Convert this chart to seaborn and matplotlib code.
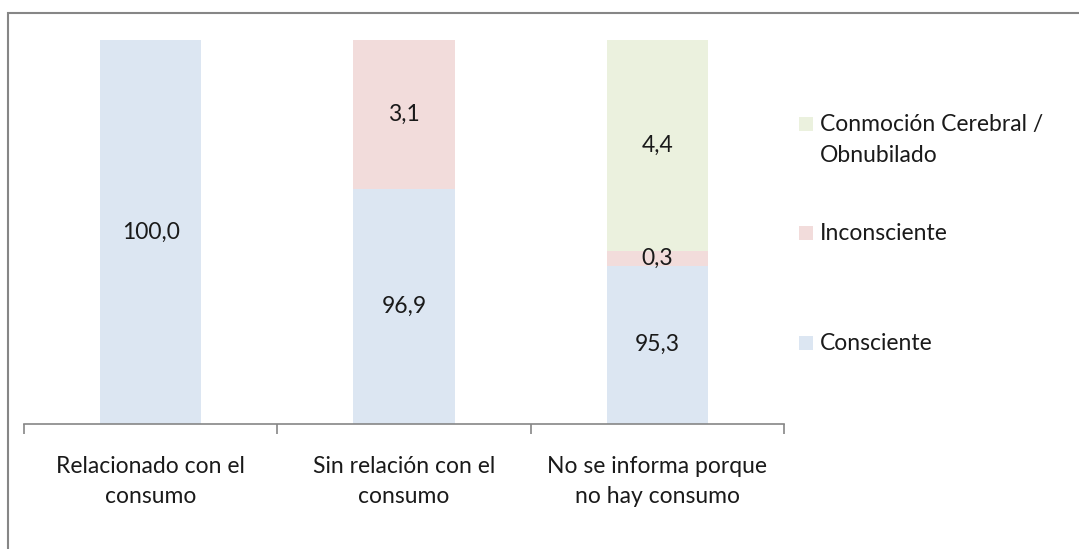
import matplotlib
matplotlib.use("Agg")
import pandas as pd
import seaborn as sns
import matplotlib.pyplot as plt
from matplotlib.patches import Rectangle

# data
categorias = ["Relacionado con el\nconsumo", "Sin relación con el\nconsumo", "No se informa porque\nno hay consumo"]
consciente = [100.0, 96.9, 95.3]
inconsciente = [0.0, 3.1, 0.3]
conmocion = [0.0, 0.0, 4.4]
series = ["Consciente", "Inconsciente", "Conmoción Cerebral /\nObnubilado"]
colores = ["#dce6f2", "#f2dcdb", "#ebf1de"]

ymin = 92

sns.set_theme(style="white")
plt.rcParams["font.family"] = ["Lato", "DejaVu Sans"]
txt = "#1a1a1a"
fs = 16.5

df = pd.DataFrame({"cat": categorias, "Consciente": consciente,
                   "Inconsciente": inconsciente, "Conmocion": conmocion})
df["c1"] = df["Consciente"]
df["c2"] = df["c1"] + df["Inconsciente"]
df["c3"] = df["c2"] + df["Conmocion"]

fig = plt.figure(figsize=(10.79, 5.49), dpi=100)
ax = fig.add_axes([24 / 1079, 125 / 549, 760 / 1079, 384 / 549])

# stacked bars: draw cumulative totals, largest first
for col, color in zip(["c3", "c2", "c1"], colores[::-1]):
    sns.barplot(data=df, x="cat", y=col, color=color, width=0.4, ax=ax,
                saturation=1, errorbar=None, linewidth=0)

ax.set_ylim(ymin, 100)
ax.set_xlim(-0.5, 2.5)

# value labels in the middle of each visible segment
for i in range(len(categorias)):
    bottoms = [0, df["c1"][i], df["c2"][i]]
    vals = [consciente[i], inconsciente[i], conmocion[i]]
    for b, v in zip(bottoms, vals):
        if v <= 0:
            continue
        y = (max(b, ymin) + b + v) / 2
        ax.text(i, y, f"{v:.1f}".replace(".", ","), ha="center", va="center",
                fontsize=fs, color=txt)

ax.set_xlabel("")
ax.set_ylabel("")
ax.set_yticks([])
for s in ["left", "right", "top"]:
    ax.spines[s].set_visible(False)
ax.spines["bottom"].set_color("#868686")
ax.spines["bottom"].set_linewidth(1.2)
ax.set_xticks(range(len(categorias)))
ax.set_xticklabels(categorias, fontsize=fs, color=txt, linespacing=1.55)
ax.set_xticks([-0.5, 0.5, 1.5, 2.5], minor=True)
ax.tick_params(axis="x", which="major", length=0, pad=23)
ax.tick_params(axis="x", which="minor", length=7, width=1.2, color="#868686",
               direction="out", bottom=True)

# legend (top to bottom: Conmoción, Inconsciente, Consciente)
leg_y = [124, 233, 343]
text_y = [140, 233, 343]
for name, color, ys, yt in zip(series[::-1], colores[::-1], leg_y, text_y):
    fig.add_artist(Rectangle((799 / 1079, 1 - (ys + 7) / 549), 14 / 1079, 14 / 549,
                             transform=fig.transFigure, facecolor=color, edgecolor="none"))
    fig.text(820 / 1079, 1 - yt / 549, name, ha="left", va="center",
             fontsize=fs, color=txt, linespacing=1.55)

# outer frame
fig.add_artist(Rectangle((8 / 1079, -0.1), 1.2, 1.1 - 13 / 549, transform=fig.transFigure,
                         fill=False, edgecolor="#868686", linewidth=1.5))

fig.savefig("out.png", dpi=100)
